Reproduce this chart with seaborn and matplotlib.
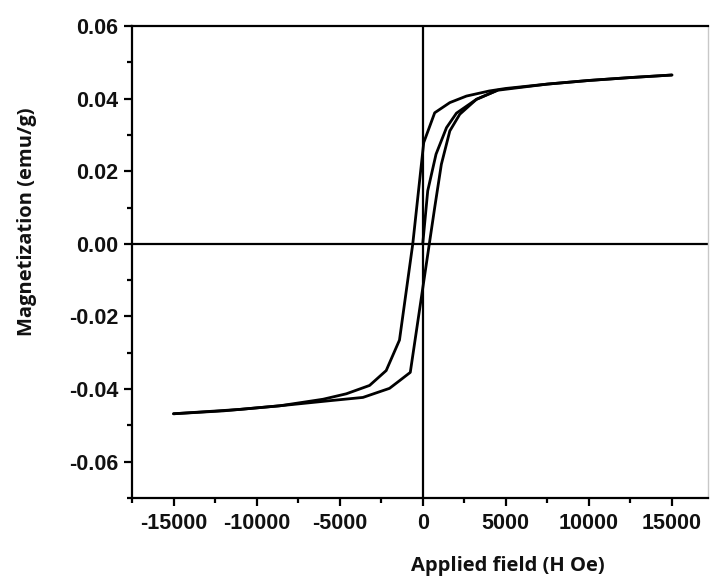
import matplotlib
matplotlib.use("Agg")
import matplotlib.pyplot as plt
import seaborn as sns
import pandas as pd
from matplotlib.ticker import MultipleLocator

# Descending branch (from +15000 Oe to -15000 Oe)
desc_H = [15000, 12500, 10000, 7500, 5000, 4000, 2630, 1630, 720, 60,
          -600, -1400, -2200, -3200, -4600, -6000, -8600, -11000, -13000, -15000]
desc_M = [0.0465, 0.0458, 0.0450, 0.0440, 0.0428, 0.0421, 0.0407, 0.0389, 0.0361, 0.0279,
          0.0, -0.0265, -0.0349, -0.0390, -0.0413, -0.0428, -0.0446, -0.0456, -0.0462, -0.0468]

# Ascending branch (from -15000 Oe to +15000 Oe)
asc_H = [-15000, -12000, -8600, -5600, -3600, -2000, -1400, -750, 720, 1120,
         1630, 2230, 3230, 4500, 7500, 10000, 12500, 15000]
asc_M = [-0.0468, -0.0460, -0.0446, -0.0432, -0.0423, -0.0398, -0.0377, -0.0354, 0.0100, 0.0219,
         0.0311, 0.0357, 0.0398, 0.0423, 0.0440, 0.0450, 0.0458, 0.0465]

# Initial (virgin) magnetization curve
virgin_H = [0, 300, 800, 1430, 2030, 3230, 4500]
virgin_M = [0.0, 0.0146, 0.0247, 0.0320, 0.0360, 0.0398, 0.0423]

x_ticks = [-15000, -10000, -5000, 0, 5000, 10000, 15000]
y_ticks = [-0.06, -0.04, -0.02, 0.00, 0.02, 0.04, 0.06]

sns.set_style("white")
plt.rcParams['font.family'] = ['Liberation Sans', 'DejaVu Sans']

fig = plt.figure(figsize=(7.1, 5.83), dpi=100)
ax = fig.add_axes([132/710, 1-498/583, (708-132)/710, (498-26)/583])

for H, M in [(desc_H, desc_M), (asc_H, asc_M), (virgin_H, virgin_M)]:
    df = pd.DataFrame({"H": H, "M": M})
    sns.lineplot(data=df, x="H", y="M", sort=False, color="black", lw=2.0, ax=ax,
                 estimator=None)

ax.axhline(0, color="black", lw=1.6, zorder=1)
ax.axvline(0, color="black", lw=1.6, zorder=1)

ax.set_xlim(-17500, 17170)
ax.set_ylim(-0.07, 0.06)
ax.set_xticks(x_ticks)
ax.set_yticks(y_ticks)
ax.set_xticklabels([str(v) for v in x_ticks])
ax.set_yticklabels([f"{v:.2f}" for v in y_ticks])
ax.xaxis.set_minor_locator(MultipleLocator(2500))
ax.yaxis.set_minor_locator(MultipleLocator(0.01))

ax.tick_params(axis="both", which="major", direction="out", length=6, width=1.6,
               labelsize=15.5, bottom=True, left=True, colors="black")
ax.tick_params(axis="x", which="major", pad=5)
ax.tick_params(axis="y", which="major", pad=4)
ax.tick_params(axis="both", which="minor", direction="out", length=3.5, width=1.6,
               bottom=True, left=True, colors="black")
for lab in ax.get_xticklabels() + ax.get_yticklabels():
    lab.set_fontweight("bold")
    lab.set_color("#111111")

for side in ["left", "bottom", "top"]:
    ax.spines[side].set_color("black")
    ax.spines[side].set_linewidth(1.6)
ax.spines["right"].set_color("#c8c8c8")
ax.spines["right"].set_linewidth(1.0)

ax.set_xlabel("Applied field (H Oe)", fontsize=14.5, fontweight="bold", color="#111111",
              family=["Open Sans", "DejaVu Sans"])
ax.set_ylabel("Magnetization (emu/g)", fontsize=14.5, fontweight="bold", color="#111111",
              family=["Open Sans", "DejaVu Sans"])
ax.xaxis.set_label_coords(0.652, -0.122)
ax.yaxis.set_label_coords(-0.165, 0.585)

fig.savefig("out.png", dpi=100)
